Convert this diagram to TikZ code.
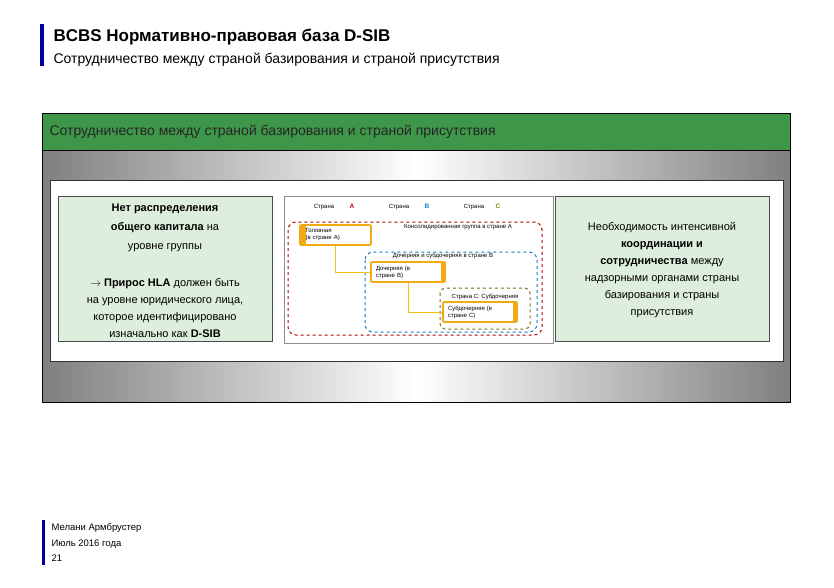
\documentclass[tikz,border=0pt]{standalone}
\usepackage{fontspec}
\setmainfont{Liberation Sans}
\definecolor{hdrgreen}{RGB}{62,150,72}
\definecolor{boxgreen}{RGB}{222,238,220}
\definecolor{orb}{RGB}{240,170,20}
\begin{document}
\begin{tikzpicture}[x=1pt,y=-1pt,
  orbox/.style={draw=orb,line width=1.6pt,fill=white,rounded corners=1pt,inner sep=1pt},
  tiny/.style={font=\fontsize{6}{7}\selectfont,align=left},
  conn/.style={draw=orb!70!yellow,line width=1pt},
  gbox/.style={draw=black!70,fill=boxgreen,line width=0.6pt}]
\useasboundingbox (0,0) rectangle (834,587);
\fill[white] (0,0) rectangle (834,587);
% title
\fill[blue!60!black] (40,24) rectangle (44,66);
\node[anchor=west,font=\fontsize{17}{19}\selectfont\bfseries] (title) at (50,37) {BCBS Нормативно-правовая база D-SIB};
\node[anchor=west,font=\fontsize{14}{16}\selectfont] (sub) at (50,60) {Сотрудничество между страной базирования и страной присутствия};
% main panel
\shade[left color=black!50, right color=black!50, middle color=white] (42,150) rectangle (790,402);
\fill[hdrgreen] (42,113) rectangle (790,150);
\draw[black,line width=0.8pt] (42,113) rectangle (790,402);
\draw[black,line width=0.8pt] (42,150) -- (790,150);
\node[anchor=west,font=\fontsize{14}{16}\selectfont,text=black!85] (hdr) at (46,132) {Сотрудничество между страной базирования и страной присутствия};
\draw[black!80,fill=white] (50,180) rectangle (783,361);
% left box
\draw[gbox] (58,196) rectangle (272,341);
\node[align=center,font=\fontsize{11}{19}\selectfont] (lt) at (165,228) {\textbf{Нет распределения}\\\textbf{общего капитала} на\\уровне группы};
\node[align=center,font=\fontsize{11}{17}\selectfont] (lb) at (165,308) {$\rightarrow$ \textbf{Прирос HLA} должен быть\\на уровне юридического лица,\\которое идентифицировано\\изначально как \textbf{D-SIB}};
% right box
\draw[gbox] (555,196) rectangle (769,341);
\node[align=center,font=\fontsize{11}{17}\selectfont] (rt) at (662,270) {Необходимость интенсивной\\\textbf{координации и}\\\textbf{сотрудничества} между\\надзорными органами страны\\базирования и страны\\присутствия};
% center diagram
\draw[black!45,line width=1pt,fill=white] (284,196) rectangle (553,343);
\node[tiny] (sa) at (324,207) {Страна};
\node[tiny,text=red!80!black,font=\fontsize{6.5}{7}\selectfont\bfseries] (la) at (352,206) {A};
\node[tiny] (sb) at (399,207) {Страна};
\node[tiny,text=cyan!70!blue,font=\fontsize{6.5}{7}\selectfont\bfseries] (lb2) at (427,206) {B};
\node[tiny] (sc) at (474,207) {Страна};
\node[tiny,text=olive,font=\fontsize{6.5}{7}\selectfont\bfseries] (lc) at (498,206) {C};
\draw[red!70!black,dashed,line width=1pt,rounded corners=8pt] (288,222) rectangle (542,335);
\node[tiny] (ca) at (458,227) {Консолидированная группа в стране A};
\draw[cyan!60!blue,dashed,line width=1pt,rounded corners=8pt] (365,252) rectangle (537,332);
\node[tiny] (cb) at (443,256) {Дочерняя и субдочерняя в стране B};
\draw[olive!80!black,dashed,line width=1pt,rounded corners=5pt] (440,288) rectangle (530,329);
\node[tiny] (cc) at (485,297) {Страна C: Субдочерняя};
\node[orbox,minimum width=71pt,minimum height=20pt,tiny,text width=60pt] (ha) at (335.5,235) {Головная\\(в стране A)};
\fill[orb] (300,225) rectangle (306,245);
\node[orbox,minimum width=74pt,minimum height=20pt,tiny,text width=64pt] (hb) at (408,272) {Дочерняя (в\\стране B)};
\fill[orb] (441,262) rectangle (445,282);
\node[orbox,minimum width=74pt,minimum height=20pt,tiny,text width=64pt] (hc) at (480,312) {Субдочерняя (в\\стране C)};
\fill[orb] (513,302) rectangle (517,322);
\draw[conn] (ha.south) |- (hb.west);
\draw[conn] (hb.south) |- (hc.west);
% footer
\fill[blue!60!black] (42,520) rectangle (45,565);
\node[anchor=west,align=left,font=\fontsize{9.5}{15.5}\selectfont] (ft) at (48,543) {Мелани Армбрустер\\Июль 2016 года\\21};
\end{tikzpicture}
\end{document}
